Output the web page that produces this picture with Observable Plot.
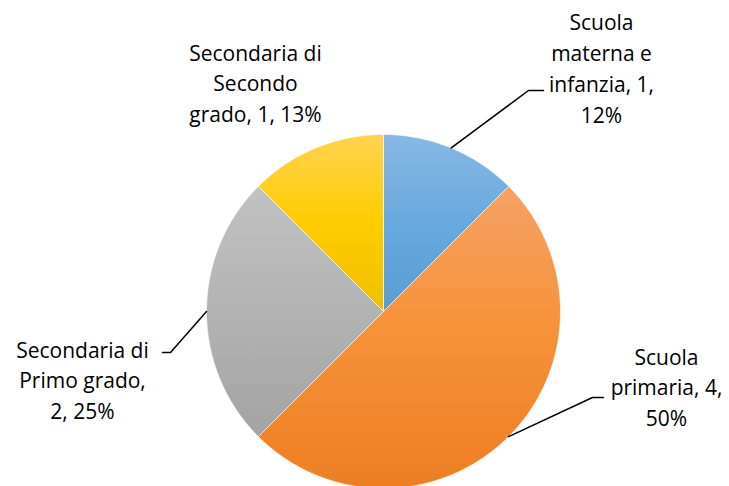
<!DOCTYPE html>
<html><head><meta charset="utf-8">
<script src="https://cdn.jsdelivr.net/npm/d3@7"></script>
<script src="https://cdn.jsdelivr.net/npm/@observablehq/plot@0.6"></script>
<style>html,body{margin:0;padding:0;background:#fff;} svg{display:block}</style>
</head><body><div id="chart"></div>
<script>
// ---- data ----
const categories = ["Scuola materna e infanzia", "Scuola primaria", "Secondaria di Primo grado", "Secondaria di Secondo grado"];
const values = [1, 4, 2, 1];
const percentLabels = ["12%", "50%", "25%", "13%"];
const labelTexts = [
  "Scuola\nmaterna e\ninfanzia, 1,\n12%",
  "Scuola\nprimaria, 4,\n50%",
  "Secondaria di\nPrimo grado,\n2, 25%",
  "Secondaria di\nSecondo\ngrado, 1, 13%"
];
const gradients = [
  [[0, "#87b8e3"], [0.5, "#68a9de"], [1, "#5a9dd4"]],
  [[0, "#f4a266"], [0.45, "#f7923b"], [1, "#ed7e22"]],
  [[0, "#c2c2c2"], [0.5, "#b3b3b3"], [1, "#a3a3a3"]],
  [[0, "#ffd350"], [0.5, "#ffcc00"], [1, "#efc000"]]
];

// ---- layout (pixels) ----
const W = 729, H = 486, CX = 383, CY = 311, R = 177;
const labelPos = [[601, 66], [666, 385], [82, 378], [255, 81]];
const leaderElbow = [[528, 90, 543], [592, 397, 603], [170, 352, 162], null];
const toX = px => (px - CX) / R, toY = py => (CY - py) / R;

// ---- geometry ----
const arcs = d3.pie().sort(null).startAngle(0).endAngle(2 * Math.PI)(values);
const sliceRows = [];
arcs.forEach((a, i) => {
  const fill = `url(#pieGrad${i})`;
  sliceRows.push({x: 0, y: 0, slice: i, fill});
  const n = Math.max(2, Math.ceil((a.endAngle - a.startAngle) / (Math.PI / 360)));
  for (let k = 0; k <= n; k++) {
    const t = a.startAngle + (a.endAngle - a.startAngle) * k / n;
    sliceRows.push({x: Math.sin(t), y: Math.cos(t), slice: i, fill});
  }
  sliceRows.push({x: 0, y: 0, slice: i, fill});
});

const leaderRows = [];
arcs.forEach((a, i) => {
  const e = leaderElbow[i];
  if (!e) return;
  const m = (a.startAngle + a.endAngle) / 2;
  leaderRows.push({x: Math.sin(m), y: Math.cos(m), id: i});
  leaderRows.push({x: toX(e[0]), y: toY(e[1]), id: i});
  leaderRows.push({x: toX(e[2]), y: toY(e[1]), id: i});
});

const labelRows = categories.map((c, i) => ({
  category: c, text: labelTexts[i], x: toX(labelPos[i][0]), y: toY(labelPos[i][1])
}));

const defsMark = () => {
  const defs = d3.create("svg:defs");
  gradients.forEach((stops, i) => {
    const g = defs.append("linearGradient").attr("id", `pieGrad${i}`)
      .attr("x1", 0).attr("y1", 0).attr("x2", 0).attr("y2", 1);
    stops.forEach(([o, c]) => g.append("stop").attr("offset", o).attr("stop-color", c));
  });
  return defs.node();
};

const chart = Plot.plot({
  width: W, height: H, margin: 0,
  x: {domain: [toX(0), toX(W)], axis: null},
  y: {domain: [toY(H), toY(0)], axis: null},
  color: {type: "identity"},
  style: {background: "#fff", fontFamily: "'Open Sans', sans-serif"},
  marks: [
    defsMark,
    Plot.line(sliceRows, {x: "x", y: "y", z: "slice", fill: "fill", stroke: "#ffffff", strokeWidth: 0.8, strokeOpacity: 0.8}),
    Plot.line(leaderRows, {x: "x", y: "y", z: "id", stroke: "#000", strokeWidth: 1.5}),
    Plot.text(labelRows, {x: "x", y: "y", text: "text", fontSize: 21, lineHeight: 1.47, fill: "#000", textAnchor: "middle", lineAnchor: "middle"})
  ]
});
document.getElementById("chart").appendChild(chart);
</script>
</body></html>
